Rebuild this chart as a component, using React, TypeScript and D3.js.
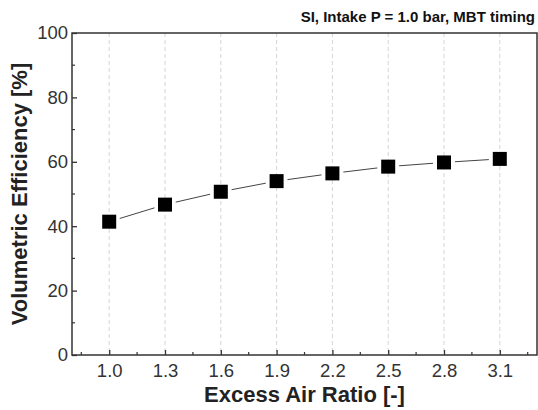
import React, { useEffect, useRef } from 'react'
import * as d3 from 'd3'

const airRatio = [1.0, 1.3, 1.6, 1.9, 2.2, 2.5, 2.8, 3.1]
const volEff = [41.4, 46.7, 50.7, 54.0, 56.4, 58.5, 59.8, 60.9]
const yTicks = [0, 20, 40, 60, 80, 100]

const width = 538
const height = 410
const margin = { top: 33, right: 1, bottom: 55, left: 72 }

export default function App() {
  const ref = useRef<SVGSVGElement>(null)

  useEffect(() => {
    const svg = d3.select(ref.current)
    svg.selectAll('*').remove()

    const x = d3.scaleLinear().domain([0.8, 3.3]).range([margin.left, width - margin.right])
    const y = d3.scaleLinear().domain([0, 100]).range([height - margin.bottom, margin.top])
    const font = 'Liberation Sans, Arial, sans-serif'
    const axisColor = '#333'

    // vertical dashed grid
    svg.append('g')
      .selectAll('line')
      .data(airRatio)
      .join('line')
      .attr('x1', d => x(d)).attr('x2', d => x(d))
      .attr('y1', y(100)).attr('y2', y(0))
      .attr('stroke', '#d4d4d4')
      .attr('stroke-width', 1)
      .attr('stroke-dasharray', '4,3')

    // x axis ticks (inward)
    const xMinor = d3.range(0.85, 3.3, 0.15).filter(v => !airRatio.some(a => Math.abs(a - v) < 1e-6))
    svg.append('g')
      .attr('transform', `translate(0,${y(0)})`)
      .call(d3.axisBottom(x).tickValues(airRatio).tickSize(-5).tickPadding(9).tickFormat(d3.format('.1f')))
      .call(g => g.select('.domain').remove())
      .call(g => g.selectAll('.tick line').attr('stroke', axisColor).attr('stroke-width', 1.3))
      .call(g => g.selectAll('.tick text').attr('fill', axisColor).attr('font-size', 18.5).attr('font-family', font))
    svg.append('g')
      .selectAll('line')
      .data(xMinor)
      .join('line')
      .attr('x1', d => x(d)).attr('x2', d => x(d))
      .attr('y1', y(0)).attr('y2', y(0) - 3)
      .attr('stroke', axisColor).attr('stroke-width', 1.2)

    // y axis
    svg.append('g')
      .attr('transform', `translate(${margin.left},0)`)
      .call(d3.axisLeft(y).tickValues(yTicks).tickSize(-5).tickPadding(4))
      .call(g => g.select('.domain').remove())
      .call(g => g.selectAll('.tick line').attr('stroke', axisColor).attr('stroke-width', 1.3))
      .call(g => g.selectAll('.tick text').attr('fill', axisColor).attr('font-size', 18.5).attr('font-family', font))
    svg.append('g')
      .selectAll('line')
      .data(d3.range(10, 100, 20))
      .join('line')
      .attr('x1', margin.left).attr('x2', margin.left + 3)
      .attr('y1', d => y(d)).attr('y2', d => y(d))
      .attr('stroke', axisColor).attr('stroke-width', 1.2)

    // frame
    svg.append('rect')
      .attr('x', margin.left).attr('y', margin.top)
      .attr('width', width - margin.left - margin.right)
      .attr('height', height - margin.top - margin.bottom)
      .attr('fill', 'none')
      .attr('stroke', axisColor)
      .attr('stroke-width', 1.5)

    // connecting segments with gaps near markers
    const pts = airRatio.map((a, i) => [x(a), y(volEff[i])])
    const gap = 11
    const segs = d3.pairs(pts).map(([p, q]) => {
      const dx = q[0] - p[0], dy = q[1] - p[1]
      const len = Math.hypot(dx, dy)
      const ux = dx / len, uy = dy / len
      return [p[0] + ux * gap, p[1] + uy * gap, q[0] - ux * gap, q[1] - uy * gap]
    })
    svg.append('g')
      .selectAll('line')
      .data(segs)
      .join('line')
      .attr('x1', d => d[0]).attr('y1', d => d[1])
      .attr('x2', d => d[2]).attr('y2', d => d[3])
      .attr('stroke', '#444').attr('stroke-width', 1)

    // markers
    const s = 14
    svg.append('g')
      .selectAll('rect')
      .data(pts)
      .join('rect')
      .attr('x', d => d[0] - s / 2).attr('y', d => d[1] - s / 2)
      .attr('width', s).attr('height', s)
      .attr('fill', '#000')

    // title
    svg.append('text')
      .attr('x', width - 3).attr('y', 22)
      .attr('text-anchor', 'end')
      .attr('font-family', font).attr('font-size', 15).attr('font-weight', 'bold')
      .attr('fill', '#111')
      .text('SI, Intake P = 1.0 bar, MBT timing')

    // axis labels
    svg.append('text')
      .attr('x', (margin.left + width - margin.right) / 2).attr('y', 402)
      .attr('text-anchor', 'middle')
      .attr('font-family', font).attr('font-size', 22).attr('font-weight', 'bold')
      .attr('fill', '#222')
      .text('Excess Air Ratio [-]')
    svg.append('text')
      .attr('transform', `translate(27,${(margin.top + height - margin.bottom) / 2}) rotate(-90)`)
      .attr('text-anchor', 'middle')
      .attr('font-family', font).attr('font-size', 22).attr('font-weight', 'bold')
      .attr('fill', '#222')
      .text('Volumetric Efficiency [%]')
  }, [])

  return (
    <svg ref={ref} width={width} height={height}
      style={{ position: 'absolute', left: 0, top: 0, background: '#fff' }} />
  )
}
